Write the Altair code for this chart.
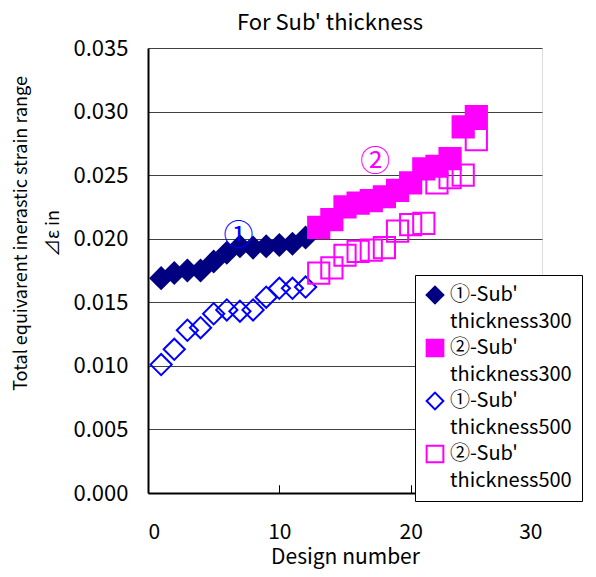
import altair as alt
import pandas as pd

# ---- data ----
series_names = ["①-Sub' thickness300", "②-Sub' thickness300",
                "①-Sub' thickness500", "②-Sub' thickness500"]

x_a = [1, 2, 3, 4, 5, 6, 7, 8, 9, 10, 11, 12]
x_b = [13, 14, 15, 16, 17, 18, 19, 20, 21, 22, 23, 24, 25]

s1 = [0.0169, 0.0173, 0.0175, 0.0175, 0.0182, 0.0189, 0.0194, 0.0193, 0.0194, 0.0195, 0.0196, 0.0201]
s2 = [0.0209, 0.0215, 0.0225, 0.0228, 0.0230, 0.0233, 0.0238, 0.0244, 0.0255, 0.0257, 0.0263, 0.0288, 0.0296]
s3 = [0.0101, 0.0113, 0.0128, 0.0130, 0.0141, 0.0144, 0.0143, 0.0144, 0.0154, 0.0161, 0.0161, 0.0162]
s4 = [0.0173, 0.0177, 0.0187, 0.0190, 0.0191, 0.0193, 0.0206, 0.0211, 0.0212, 0.0244, 0.0248, 0.0250, 0.0278]

shapes = ["diamond", "square", "diamond", "square"]
fills = ["#000080", "#FF00FF", "transparent", "transparent"]
strokes = ["#000080", "#FF00FF", "#0000FF", "#FF00FF"]

ann_text = ["①", "②"]
ann_x = [6.9, 17.3]
ann_y = [0.0202, 0.0260]
ann_color = ["#0000FF", "#FF00FF"]

y_ticks = [0.0, 0.005, 0.010, 0.015, 0.020, 0.025, 0.030, 0.035]
x_ticks = [0, 10, 20, 30]

FONT = "Noto Sans CJK JP"

rows = []
for name, xs, ys in zip(series_names, [x_a, x_b, x_a, x_b], [s1, s2, s3, s4]):
    for xv, yv in zip(xs, ys):
        rows.append({"series": name, "x": xv, "y": yv})
df = pd.DataFrame(rows)

xscale = alt.Scale(domain=[0, 30], nice=False)
yscale = alt.Scale(domain=[0, 0.035], nice=False)

y_axis = alt.Axis(title=["Total equivarent inerastic strain range", "⊿ε in"],
                  values=y_ticks, format=".3f", ticks=False,
                  grid=True, gridColor="#404040", gridWidth=1,
                  domainColor="black", domainWidth=2, labelPadding=20,
                  labelFont=FONT, labelFontSize=22, labelColor="black",
                  labelLineHeight=24,
                  titleFont=FONT, titleFontSize=18, titleFontWeight="normal",
                  titleColor="black", titleX=-136, titleY=185,
                  titleBaseline="top", titleAlign="center", titleLineHeight=32)

legend = alt.Legend(
    title=None, orient="none", legendX=267, legendY=227,
    labelExpr="split(datum.label, ' ')",
    labelFont=FONT, labelFontSize=20, labelColor="black",
    symbolSize=280, symbolStrokeWidth=2,
    strokeColor="black", fillColor="white", padding=10,
    rowPadding=3, labelOffset=5, labelLimit=300,
)

points = alt.Chart(df).mark_point(strokeWidth=2, opacity=1, size=450).encode(
    x=alt.X("x:Q", scale=xscale,
            axis=alt.Axis(title="Design number", values=x_ticks, orient="bottom",
                          ticks=False, grid=False, labelPadding=28,
                          domainColor="black", domainWidth=2,
                          labelFont=FONT, labelFontSize=21, labelColor="black",
                          labelLineHeight=23,
                          titleFont=FONT, titleFontSize=21, titleFontWeight="normal",
                          titleColor="black", titlePadding=4)),
    y=alt.Y("y:Q", scale=yscale, axis=y_axis),
    shape=alt.Shape("series:N", scale=alt.Scale(domain=series_names, range=shapes), legend=legend),
    fill=alt.Fill("series:N", scale=alt.Scale(domain=series_names, range=fills), legend=legend),
    stroke=alt.Stroke("series:N", scale=alt.Scale(domain=series_names, range=strokes), legend=legend),
)

layers = [points]
for t, xv, yv, c in zip(ann_text, ann_x, ann_y, ann_color):
    a = pd.DataFrame({"t": [t], "x": [xv], "y": [yv]})
    layers.append(
        alt.Chart(a).mark_text(font=FONT, fontSize=30, baseline="middle", align="center", color=c).encode(
            x=alt.X("x:Q", scale=xscale,
                    axis=alt.Axis(title=None, values=[10, 20], orient="bottom", labels=False,
                                  domain=False, grid=False, ticks=True, tickSize=8,
                                  tickColor="black", tickWidth=1, offset=-8)),
            y=alt.Y("y:Q", scale=yscale, axis=y_axis),
            text="t:N",
        )
    )

chart = alt.layer(*layers).resolve_axis(x="independent").properties(
    width=394, height=445,
    autosize=alt.AutoSizeParams(type="none"),
    padding={"left": 140, "top": 40, "right": 46, "bottom": 76},
    title=alt.TitleParams("For Sub' thickness", font=FONT, fontSize=22,
                          fontWeight="normal", color="black", dx=-15, offset=2),
).configure_view(stroke="#888888", strokeWidth=2).configure(
    background="white", style={"guide-label": {"lineHeight": 27}}
)

chart.save("out.html", embed_options={"renderer": "svg", "actions": False})
